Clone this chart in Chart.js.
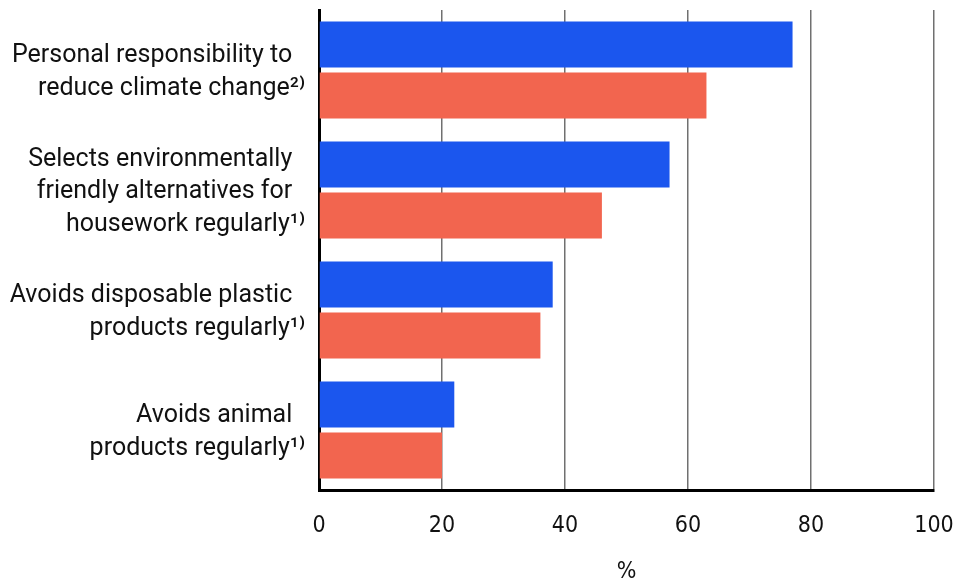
<!DOCTYPE html>
<html>
<head>
<meta charset="utf-8">
<script src="https://cdn.jsdelivr.net/npm/chart.js@4"></script>
<style>
  html, body { margin: 0; padding: 0; background: #fff; }
  #wrap { width: 959px; height: 585px; position: relative; }
</style>
</head>
<body>
<div id="wrap"><canvas id="chart"></canvas></div>
<script>
const categories = [
    ['Personal responsibility to\u2002', 'reduce climate change\u00B2\u207E'],
    ['Selects environmentally\u2002', 'friendly alternatives for\u2002', 'housework regularly\u00B9\u207E'],
    ['Avoids disposable plastic\u2002', 'products regularly\u00B9\u207E'],
    ['Avoids animal\u2002', 'products regularly\u00B9\u207E']
];
const seriesBlue = [77, 57, 38, 22];
const seriesRed = [63, 46, 36, 20];
const xTicks = [0, 20, 40, 60, 80, 100];

const labelFont = "Roboto, 'Noto Sans', sans-serif";
const tickFont = "'Liberation Sans Narrow', 'DejaVu Sans Condensed', Roboto, sans-serif";

const ctx = document.getElementById('chart').getContext('2d');

new Chart(ctx, {
    type: 'bar',
    data: {
        labels: categories,
        datasets: [{
            data: seriesBlue,
            backgroundColor: '#1b56ee',
            categoryPercentage: 0.85,
            barPercentage: 0.9
        }, {
            data: seriesRed,
            backgroundColor: '#f2654f',
            categoryPercentage: 0.85,
            barPercentage: 0.9
        }]
    },
    options: {
        indexAxis: 'y',
        responsive: true,
        maintainAspectRatio: false,
        animation: false,
        layout: { padding: { top: 10, right: 25, left: 0, bottom: 0 } },
        plugins: {
            legend: { display: false },
            tooltip: { enabled: false }
        },
        scales: {
            x: {
                min: 0,
                max: 100,
                afterBuildTicks: scale => {
                    scale.ticks = xTicks.map(v => ({ value: v }));
                },
                afterFit: scale => {
                    scale.height = 95;
                    scale.paddingLeft = 0;
                    scale.paddingRight = 0;
                },
                grid: {
                    color: '#707070',
                    lineWidth: 1.5,
                    drawTicks: false
                },
                border: { color: '#000', width: 3 },
                ticks: {
                    color: '#111',
                    padding: 22,
                    font: { family: tickFont, size: 23 }
                },
                title: {
                    display: true,
                    text: '%',
                    color: '#111',
                    padding: { top: 0, bottom: -1 },
                    font: { family: tickFont, size: 23 }
                }
            },
            y: {
                afterFit: scale => {
                    scale.width = 319;
                    scale.paddingTop = 0;
                    scale.paddingBottom = 0;
                },
                grid: { display: false, drawTicks: false },
                border: { color: '#000', width: 3 },
                ticks: {
                    color: '#111',
                    padding: 14,
                    labelOffset: 2,
                    font: { family: labelFont, size: 25, lineHeight: 1.3 }
                }
            }
        }
    }
});
</script>
</body>
</html>
